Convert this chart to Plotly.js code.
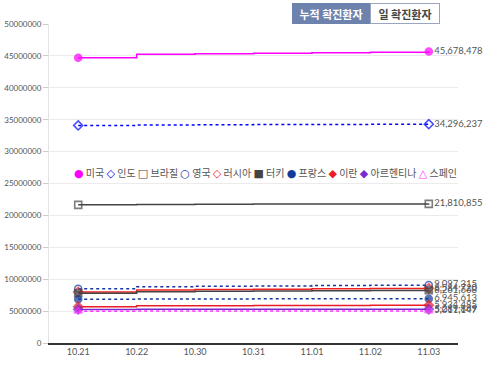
<!DOCTYPE html>
<html><head><meta charset="utf-8">
<script src="https://cdn.plot.ly/plotly-3.0.1.min.js"></script>
<style>html,body{margin:0;padding:0;background:#fff}#c{width:500px;height:366px}</style>
</head><body><div id="c"></div>
<script>
const dates = ['10.21','10.22','10.30','10.31','11.01','11.02','11.03'];
const names = ['미국','인도','브라질','영국','러시아','터키','프랑스','이란','아르헨티나','스페인'];
const usa       = [44700000,45270000,45350000,45420000,45500000,45590000,45678478];
const india     = [34100000,34180000,34210000,34230000,34250000,34270000,34296237];
const brazil    = [21650000,21720000,21750000,21770000,21785000,21800000,21810855];
const uk        = [8500000,8800000,8880000,8940000,9000000,9050000,9097315];
const russia    = [8000000,8300000,8380000,8440000,8500000,8540000,8584720];
const turkey    = [7800000,8050000,8110000,8160000,8200000,8230000,8261668];
const france    = [6850000,6900000,6915000,6925000,6932000,6940000,6945613];
const iran      = [5700000,5820000,5850000,5870000,5890000,5910000,5934485];
const argentina = [5270000,5276000,5279000,5282000,5284000,5286000,5289869];
const spain     = [4990000,4998000,5002000,5005000,5007000,5009000,5011147];
const seriesVals = [usa,india,brazil,uk,russia,turkey,france,iran,argentina,spain];
const yTicks = [0,5000000,10000000,15000000,20000000,25000000,30000000,35000000,40000000,45000000,50000000];

const colors = ['#ff00ff','#0000ff','#444444','#1536a3','#f02020','#444444','#12399b','#ec1c24','#7a2bd0','#ff33ff'];
const symbols = ['circle','diamond-open','square-open','circle-open','diamond-open','square','circle','diamond','diamond','triangle-up-open'];
const glyphs = ['●','◇','□','○','◇','■','●','◆','◆','△'];
const dashes = ['solid','dot','solid','dot','solid','solid','dot','solid','solid','dot'];

const fmt = v => v.toLocaleString('en-US');
const traces = [];
seriesVals.forEach((vals,i)=>{
  const n = vals.length;
  traces.push({
    x: dates, y: vals, type:'scatter', mode:'lines+markers+text',
    showlegend:false, hoverinfo:'skip',
    line:{color:colors[i], width:1.5, dash:dashes[i], shape:'hv'},
    marker:{symbol:symbols[i], color:colors[i], size:vals.map((v,k)=>(k===0||k===n-1)?7:0), line:{width:1.6,color:colors[i]}},
    text: vals.map((v,k)=>k===n-1?fmt(v):''),
    textposition:'middle right',
    textfont:{family:'Lato, sans-serif', size:9.5, color:'#555'},
    cliponaxis:false
  });
});

const L=49, R=458, T=24, B=343;
const px = p => (p-L)/(R-L);
const py = p => (B-p)/(B-T);

const legendText = names.map((nm,i)=>
  `<span style="color:${colors[i]};font-family:'DejaVu Sans';font-weight:bold;font-size:11px">${glyphs[i]}</span> ${nm}`).join(' ');

const layout = {
  width:500, height:366,
  margin:{l:L, r:500-R, t:T, b:366-B},
  paper_bgcolor:'#fff', plot_bgcolor:'#fff',
  font:{family:'Lato, "Noto Sans CJK KR", sans-serif', color:'#555'},
  xaxis:{type:'category', range:[-0.5,6.5], showgrid:false, showline:true, linecolor:'#333', linewidth:1.5,
    ticks:'', tickfont:{size:9,color:'#555'}, fixedrange:true, zeroline:false},
  yaxis:{range:[0,50000000], tickvals:yTicks, ticktext:yTicks.map(v=>String(v)), showgrid:true, gridcolor:'#ebebeb',
    showline:true, linecolor:'#e3e3e3', ticks:'outside', ticklen:5, tickcolor:'#ccc',
    tickfont:{size:8,color:'#555'}, zeroline:false, fixedrange:true},
  showlegend:false,
  annotations:[
    {xref:'paper', yref:'paper', x:px(331), y:py(13.5), xanchor:'center', yanchor:'middle', text:'<b>누적 확진환자</b>', showarrow:false,
      width:76, height:19, bgcolor:'#6d82ad', bordercolor:'#6d82ad', borderwidth:1, borderpad:0,
      font:{family:'"Noto Sans CJK KR", sans-serif', size:11, color:'#fff'}},
    {xref:'paper', yref:'paper', x:px(405), y:py(13.5), xanchor:'center', yanchor:'middle', text:'<b>일 확진환자</b>', showarrow:false,
      width:68, height:19, bgcolor:'#fff', bordercolor:'#9aa6bf', borderwidth:1, borderpad:0,
      font:{family:'"Noto Sans CJK KR", sans-serif', size:11, color:'#444'}},
    {xref:'paper', yref:'paper', x:px(265), y:py(172), xanchor:'center', yanchor:'middle', text:legendText, showarrow:false,
      font:{family:'"Noto Sans CJK KR", sans-serif', size:10, color:'#555'}}
  ]
};
Plotly.newPlot('c', traces, layout, {displayModeBar:false, staticPlot:true});
</script></body></html>
